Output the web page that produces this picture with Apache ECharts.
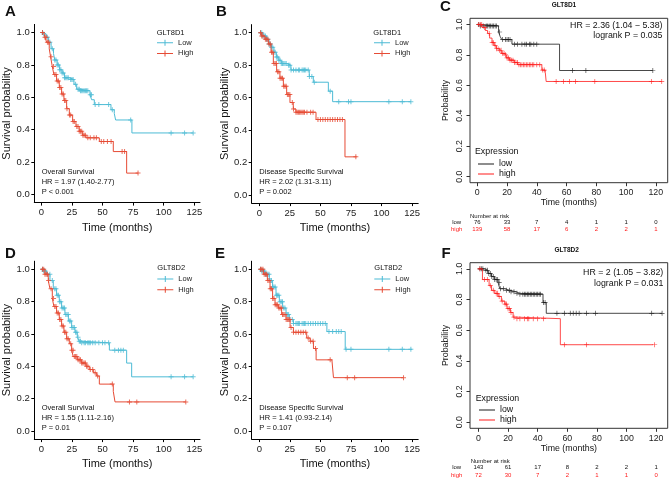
<!DOCTYPE html>
<html><head><meta charset="utf-8">
<script src="https://cdn.jsdelivr.net/npm/echarts@6/dist/echarts.min.js"></script>
<style>html,body{margin:0;padding:0;background:#fff}#c{width:669px;height:479px}</style>
</head><body><div id="c"></div>
<script>
// ---------- data ----------
const ggTicksX = [0, 25, 50, 75, 100, 125];
const kmTicksX = [0, 20, 40, 60, 80, 100, 120];
const yTicks = [0, 0.2, 0.4, 0.6, 0.8, 1.0];

// Panel A: GLT8D1 overall survival
const A_low = [[0,1],[2,0.99],[4,0.97],[6,0.94],[8,0.90],[10,0.87],[11,0.83],[13,0.80],[15,0.77],[17,0.75],[19,0.72],[23,0.71],[26.7,0.68],[28.9,0.65],[31.6,0.64],[39.8,0.615],[41.1,0.585],[43.3,0.555],[56.9,0.523],[59.6,0.50],[60.7,0.46],[74,0.38],[124,0.38]];
const A_high = [[0,1],[2,0.99],[3,0.97],[4.4,0.94],[6.5,0.90],[7.6,0.85],[9,0.79],[10.3,0.74],[12.5,0.70],[14.7,0.66],[16.6,0.62],[18.5,0.58],[20.7,0.53],[22.9,0.49],[25.6,0.45],[28.3,0.42],[31,0.39],[33.8,0.365],[36.5,0.35],[47.4,0.327],[58.8,0.265],[69.7,0.132],[79.2,0.132]];
const A_lowCens = [1,2,5,7,9,11,12,13,14,15,16,17,18,19,20,21,22,24,25,26,28,30,31,32,33,34,35,36,37,38,40,41,44,47,55,58,73,106,117,124];
const A_highCens = [1,3,4,5,6,8,10,11,12,13,14,15,16,17,18,19,20,21,23,24,26,27,29,30,31,32,33,34,35,36,38,40,43,45,49,51,54,57,66,68,79];

// Panel B: GLT8D1 disease specific survival
const B_low = [[0,1],[3,0.98],[6,0.96],[8,0.93],[10,0.91],[12,0.88],[14,0.85],[16,0.83],[18,0.81],[22.4,0.80],[25.9,0.77],[40.9,0.73],[44.2,0.695],[56.5,0.64],[60,0.575],[124,0.575]];
const B_high = [[0,1],[2,0.98],[4.6,0.96],[7.4,0.93],[9.6,0.88],[11.5,0.81],[14.2,0.76],[16.9,0.72],[19.7,0.67],[22.4,0.62],[25.1,0.57],[27.8,0.53],[30,0.51],[46.4,0.465],[70.1,0.235],[79.7,0.235]];
const B_lowCens = [1,2,3,4,5,6,7,8,9,10,11,12,13,14,15,16,17,18,19,20,21,22,24,25,26,28,30,32,33,35,36,37,38,40,41,43,45,58,65,73,75,106,117,124];
const B_highCens = [1,2,3,5,6,7,8,9,10,11,12,13,14,15,16,17,18,19,20,21,22,23,24,25,27,28,30,31,32,33,34,35,36,37,39,42,44,48,50,52,54,56,58,60,62,64,66,68,79];

// Panel C: GLT8D1 KM plotter
const C_low = [[0,1],[2,0.99],[14.3,0.95],[15.4,0.92],[16.5,0.90],[23.3,0.87],[55.3,0.697],[118,0.697]];
const C_high = [[0,1],[3.1,0.98],[5.4,0.96],[6.9,0.94],[8.3,0.91],[9.9,0.88],[11.4,0.86],[12.8,0.84],[14.3,0.83],[16.1,0.81],[18.1,0.80],[19.5,0.78],[21.7,0.765],[24.8,0.75],[27.1,0.735],[43.4,0.70],[45.7,0.685],[46.3,0.625],[124,0.625]];
const C_lowCens = [1,2,4,6,7,8,9,10,11,12,13,15,17,19,20,21,22,25,27,30,32,33,35,36,38,40,64,73,118];
const C_highCens = [1,2,3,5,8,10,11,12,13,14,15,16,17,18,19,20,21,22,23,24,25,26,27,28,29,30,31,32,33,34,35,36,37,38,40,42,44,45,53,58,62,66,79,117,124];

// Panel D: GLT8D2 overall survival
const D_low = [[0,1],[2,0.99],[4.4,0.97],[7.1,0.93],[9.8,0.88],[12.5,0.84],[14.7,0.80],[16.6,0.76],[19.3,0.72],[22.1,0.68],[24.8,0.64],[27.5,0.61],[29.4,0.58],[31,0.555],[33,0.545],[55.6,0.50],[69.7,0.42],[73.8,0.335],[124,0.335]];
const D_high = [[0,1],[3,0.97],[5.7,0.93],[7.1,0.88],[9,0.82],[10.3,0.77],[12.5,0.73],[14.7,0.69],[16.6,0.65],[18.5,0.61],[20.7,0.57],[22.9,0.54],[24.8,0.50],[26.1,0.46],[29.4,0.44],[33,0.42],[36.5,0.40],[39.2,0.38],[42.5,0.36],[45.2,0.34],[47.4,0.29],[58.8,0.245],[60.2,0.18],[118,0.18]];
const D_lowCens = [1,2,3,5,7,9,11,12,13,14,15,16,17,18,19,20,21,22,23,24,25,26,27,28,29,30,31,32,33,35,36,38,39,40,42,44,47,50,52,55,60,63,65,67,106,117,124];
const D_highCens = [1,2,3,4,5,6,8,10,11,12,13,14,15,16,17,18,19,20,21,22,24,25,26,27,28,29,30,31,32,33,34,35,36,37,38,40,42,44,46,58,72,78,118];

// Panel E: GLT8D2 disease specific survival
const E_low = [[0,1],[2,0.99],[4.6,0.97],[8.2,0.93],[10.9,0.89],[13.7,0.84],[16.4,0.80],[19.1,0.76],[21.9,0.72],[24.6,0.69],[27.9,0.665],[55.3,0.615],[70.3,0.505],[125,0.505]];
const E_high = [[0,1],[3.3,0.97],[6.6,0.93],[8.8,0.88],[10.9,0.82],[12.9,0.78],[15.6,0.76],[18.3,0.72],[21.9,0.69],[25.2,0.64],[27.9,0.61],[38.8,0.575],[41.6,0.555],[44.3,0.51],[46.5,0.44],[59.4,0.43],[60.7,0.33],[118,0.33]];
const E_lowCens = [1,2,3,4,5,6,7,8,9,10,11,12,13,14,15,16,17,18,19,20,21,22,23,24,25,27,28,30,31,32,33,35,36,37,38,40,42,44,46,48,50,52,54,57,60,63,65,67,71,75,106,117,124];
const E_highCens = [1,2,3,4,5,6,7,8,9,10,11,12,13,14,15,16,17,18,19,20,21,22,23,24,25,26,28,30,32,34,36,38,40,42,44,46,58,72,78,118];

// Panel F: GLT8D2 KM plotter
const F_low = [[0,1],[4.3,0.99],[6.5,0.97],[8.8,0.95],[11,0.93],[13.3,0.91],[14.4,0.87],[17.8,0.86],[21.1,0.85],[25.6,0.84],[27.9,0.835],[43.6,0.78],[45.8,0.71],[124,0.71]];
const F_high = [[0,1],[2.7,0.93],[7.2,0.89],[8.8,0.86],[11,0.84],[13.3,0.82],[15.5,0.79],[17.8,0.77],[19.3,0.74],[21.6,0.715],[23.4,0.685],[25.2,0.675],[55.3,0.505],[118,0.505]];
const F_lowCens = [1,2,3,5,6,7,8,9,10,11,12,13,14,15,17,19,21,22,24,26,28,30,31,32,33,34,35,36,37,38,39,40,41,42,44,45,53,58,62,64,66,68,73,79,117,124];
const F_highCens = [1,4,6,8,10,12,13,14,16,18,19,20,21,22,24,26,28,31,33,34,37,40,44,58,73,119];

// numbers at risk
const riskTimes = [0, 20, 40, 60, 80, 100, 120];
const riskC_low = [76, 33, 7, 4, 1, 1, 0];
const riskC_high = [139, 58, 17, 6, 2, 2, 1];
const riskF_low = [143, 61, 17, 8, 2, 2, 1];
const riskF_high = [72, 30, 7, 2, 1, 1, 0];

// ---------- styling ----------
const FONT = '"Liberation Sans", Arial, Helvetica, sans-serif';
const LOWC = '#4DBBD5', HIGHC = '#E64B35';
const KM_LOW = '#1a1a1a', KM_HIGH = '#FF1A1A';
const PLUS = 'path://M4,0h2v10h-2zM0,4h10v2h-10z';
const PLUS_THIN = 'path://M4.3,0h1.4v10h-1.4zM0,4.3h10v1.4h-10z';
const LEG_ICON = 'path://M0,2.5h16v1h-16zM7.5,0h1v6h-1z';

const panels = [
  {type:'gg', grid:{left:34.3, top:24.4, width:165.7, height:178.2}, x:[-5.7,129.6], y:[-0.05,1.05], low:A_low, high:A_high, lowC:A_lowCens, highC:A_highCens, yGap:19},
  {type:'gg', grid:{left:251.7, top:24.6, width:166.5, height:178.5}, x:[-6.2,130], y:[-0.05,1.05], low:B_low, high:B_high, lowC:B_lowCens, highC:B_highCens, yGap:21},
  {type:'km', grid:{left:470, top:18.3, width:197.7, height:164.4}, x:[-4.9,128], y:[-0.04,1.04], low:C_low, high:C_high, lowC:C_lowCens, highC:C_highCens},
  {type:'gg', grid:{left:34.3, top:261.2, width:165.7, height:177.9}, x:[-5.7,129.6], y:[-0.05,1.05], low:D_low, high:D_high, lowC:D_lowCens, highC:D_highCens, yGap:20},
  {type:'gg', grid:{left:251.7, top:261.2, width:166.5, height:177.9}, x:[-6.2,130], y:[-0.05,1.05], low:E_low, high:E_high, lowC:E_lowCens, highC:E_highCens, yGap:21},
  {type:'km', grid:{left:470, top:262.7, width:197.7, height:165.6}, x:[-5.7,127.8], y:[-0.04,1.04], low:F_low, high:F_high, lowC:F_lowCens, highC:F_highCens}
];

function stepY(curve, t) {
  let y = curve[0][1];
  for (const p of curve) { if (p[0] <= t) y = p[1]; else break; }
  return y;
}

const grids = [], xAxes = [], yAxes = [], series = [];
panels.forEach((p, i) => {
  const gg = p.type === 'gg';
  grids.push(Object.assign({}, p.grid, gg ? {show:false} : {show:true, borderColor:'#333', borderWidth:1, backgroundColor:'transparent'}));
  const xt = gg ? ggTicksX : kmTicksX;
  xAxes.push({
    type:'value', gridIndex:i, min:p.x[0], max:p.x[1],
    axisLine:{show:gg, onZero:false, lineStyle:{color:'#000', width:1}},
    axisTick:{show:true, length:gg?3:3.5, customValues:xt, lineStyle:{color:gg?'#000':'#333', width:1}},
    axisLabel:{customValues:xt, margin:gg?5:5.5, fontSize:gg?9.5:8.8, color:'#222', fontFamily:FONT},
    splitLine:{show:false},
    name:'Time (months)', nameLocation:'middle', nameGap:gg?19.5:14.5,
    nameTextStyle:{fontSize:gg?11:8.8, color:'#111', fontFamily:FONT}
  });
  yAxes.push({
    type:'value', gridIndex:i, min:p.y[0], max:p.y[1],
    axisLine:{show:gg, onZero:false, lineStyle:{color:'#000', width:1}},
    axisTick:{show:true, length:gg?3:3.5, customValues:yTicks, lineStyle:{color:gg?'#000':'#333', width:1}},
    axisLabel:{customValues:yTicks, margin:gg?4.5:6, rotate:gg?0:90, fontSize:gg?9.5:8.8, color:'#222', fontFamily:FONT,
      formatter:v => v.toFixed(1)},
    splitLine:{show:false},
    name:gg?'Survival probability':'Probability', nameLocation:'middle', nameGap:gg?p.yGap:20,
    nameTextStyle:{fontSize:gg?11:8.8, color:'#111', fontFamily:FONT}
  });
  const names = gg ? ['Low','High'] : ['low','high'];
  const cols = gg ? [LOWC, HIGHC] : [KM_LOW, KM_HIGH];
  [[p.low, p.lowC], [p.high, p.highC]].forEach(([curve, cens], k) => {
    series.push({
      type:'line', name:names[k], xAxisIndex:i, yAxisIndex:i, data:curve, step:'end',
      showSymbol:false, symbol:'none', silent:true, animation:false, z:2+k,
      lineStyle:{width:gg?1:0.8, color:cols[k]}, itemStyle:{color:cols[k]}
    });
    series.push({
      type:'scatter', name:names[k]+' censor', xAxisIndex:i, yAxisIndex:i,
      data:cens.map(t => [t, stepY(curve, t)]),
      symbol:gg?PLUS:PLUS_THIN, symbolSize:gg?5:5, silent:true, animation:false, z:2+k,
      itemStyle:{color:cols[k]}
    });
  });
});

function ggLegend(left, top) {
  return {left:left, top:top, orient:'vertical', padding:0, itemGap:2.7, itemWidth:16, itemHeight:6,
    selectedMode:false, data:[{name:'Low', icon:LEG_ICON}, {name:'High', icon:LEG_ICON}],
    textStyle:{fontSize:7.5, color:'#222', fontFamily:FONT}};
}
function kmLegend(left, top) {
  return {left:left, top:top, orient:'vertical', padding:0, itemGap:1, itemWidth:16, itemHeight:1,
    selectedMode:false, data:[{name:'low', icon:'rect'}, {name:'high', icon:'rect'}],
    textStyle:{fontSize:8.8, color:'#111', fontFamily:FONT}};
}

function txt(x, y, text, size, opts) {
  opts = opts || {};
  return {type:'text', x:x, y:y, silent:true, style:{text:text, fill:opts.fill || '#111',
    font:(opts.bold ? 'bold ' : '') + size + 'px ' + FONT, textAlign:opts.align || 'left', textVerticalAlign:'middle'}};
}

const graphics = [
  txt(5, 12, 'A', 15, {bold:true}), txt(216, 12, 'B', 15, {bold:true}), txt(440, 6.5, 'C', 15, {bold:true}),
  txt(5, 254, 'D', 15, {bold:true}), txt(215, 254, 'E', 15, {bold:true}), txt(441.5, 254, 'F', 15, {bold:true}),
  // legend titles
  txt(156.7, 32.7, 'GLT8D1', 7.5), txt(373.3, 32.7, 'GLT8D1', 7.5),
  txt(157.3, 268.3, 'GLT8D2', 7.5), txt(374.3, 268.3, 'GLT8D2', 7.5),
  // annotations
  txt(41.7, 171.7, 'Overall Survival', 7.5), txt(41.7, 182, 'HR = 1.97 (1.40-2.77)', 7.5), txt(41.7, 192.3, 'P < 0.001', 7.5),
  txt(259.3, 172, 'Disease Specific Survival', 7.5), txt(259.3, 182.3, 'HR = 2.02 (1.31-3.11)', 7.5), txt(259.3, 192.3, 'P = 0.002', 7.5),
  txt(41.7, 407.7, 'Overall Survival', 7.5), txt(41.7, 418, 'HR = 1.55 (1.11-2.16)', 7.5), txt(41.7, 428.3, 'P = 0.01', 7.5),
  txt(259.3, 407.7, 'Disease Specific Survival', 7.5), txt(259.3, 418, 'HR = 1.41 (0.93-2.14)', 7.5), txt(259.3, 428.3, 'P = 0.107', 7.5),
  // KM plotter titles and stats
  txt(564, 5.5, 'GLT8D1', 6.5, {bold:true, align:'center'}), txt(566.7, 250, 'GLT8D2', 6.5, {bold:true, align:'center'}),
  txt(662.5, 25.7, 'HR = 2.36 (1.04 \u2212 5.38)', 8.8, {align:'right'}), txt(662.5, 36, 'logrank P = 0.035', 8.8, {align:'right'}),
  txt(663.3, 272.7, 'HR = 2 (1.05 \u2212 3.82)', 8.8, {align:'right'}), txt(663.3, 283.5, 'logrank P = 0.031', 8.8, {align:'right'}),
  txt(475, 151.7, 'Expression', 8.8), txt(475.7, 398.3, 'Expression', 8.8),
  txt(470, 216, 'Number at risk', 6), txt(470.7, 461, 'Number at risk', 6),
  txt(456.7, 222.3, 'low', 6, {align:'center'}), txt(456.7, 229.3, 'high', 6, {align:'center', fill:'#FF1A1A'}),
  txt(456.7, 467.7, 'low', 6, {align:'center'}), txt(456.7, 475, 'high', 6, {align:'center', fill:'#FF1A1A'})
];

const chart = echarts.init(document.getElementById('c'), null, {renderer:'canvas'});
chart.setOption({
  animation:false, backgroundColor:'#fff',
  grid:grids, xAxis:xAxes, yAxis:yAxes, series:series,
  legend:[ggLegend(157, 38.7), ggLegend(374, 38.7), kmLegend(478, 159.5), ggLegend(157.3, 275), ggLegend(374.3, 275), kmLegend(479, 405.5)],
  graphic:graphics
});

// numbers at risk placed under the KM plotter x axes through the axis scale
const riskTexts = [];
[[2, riskC_low, riskC_high, 222.3, 229.3], [5, riskF_low, riskF_high, 467.7, 475]].forEach(([gi, lo, hi, y1, y2]) => {
  riskTimes.forEach((t, j) => {
    const px = chart.convertToPixel({xAxisIndex:gi}, t);
    riskTexts.push(txt(px, y1, String(lo[j]), 6, {align:'center'}));
    riskTexts.push(txt(px, y2, String(hi[j]), 6, {align:'center', fill:'#FF1A1A'}));
  });
});
chart.setOption({graphic:graphics.concat(riskTexts)});
</script>
</body></html>
